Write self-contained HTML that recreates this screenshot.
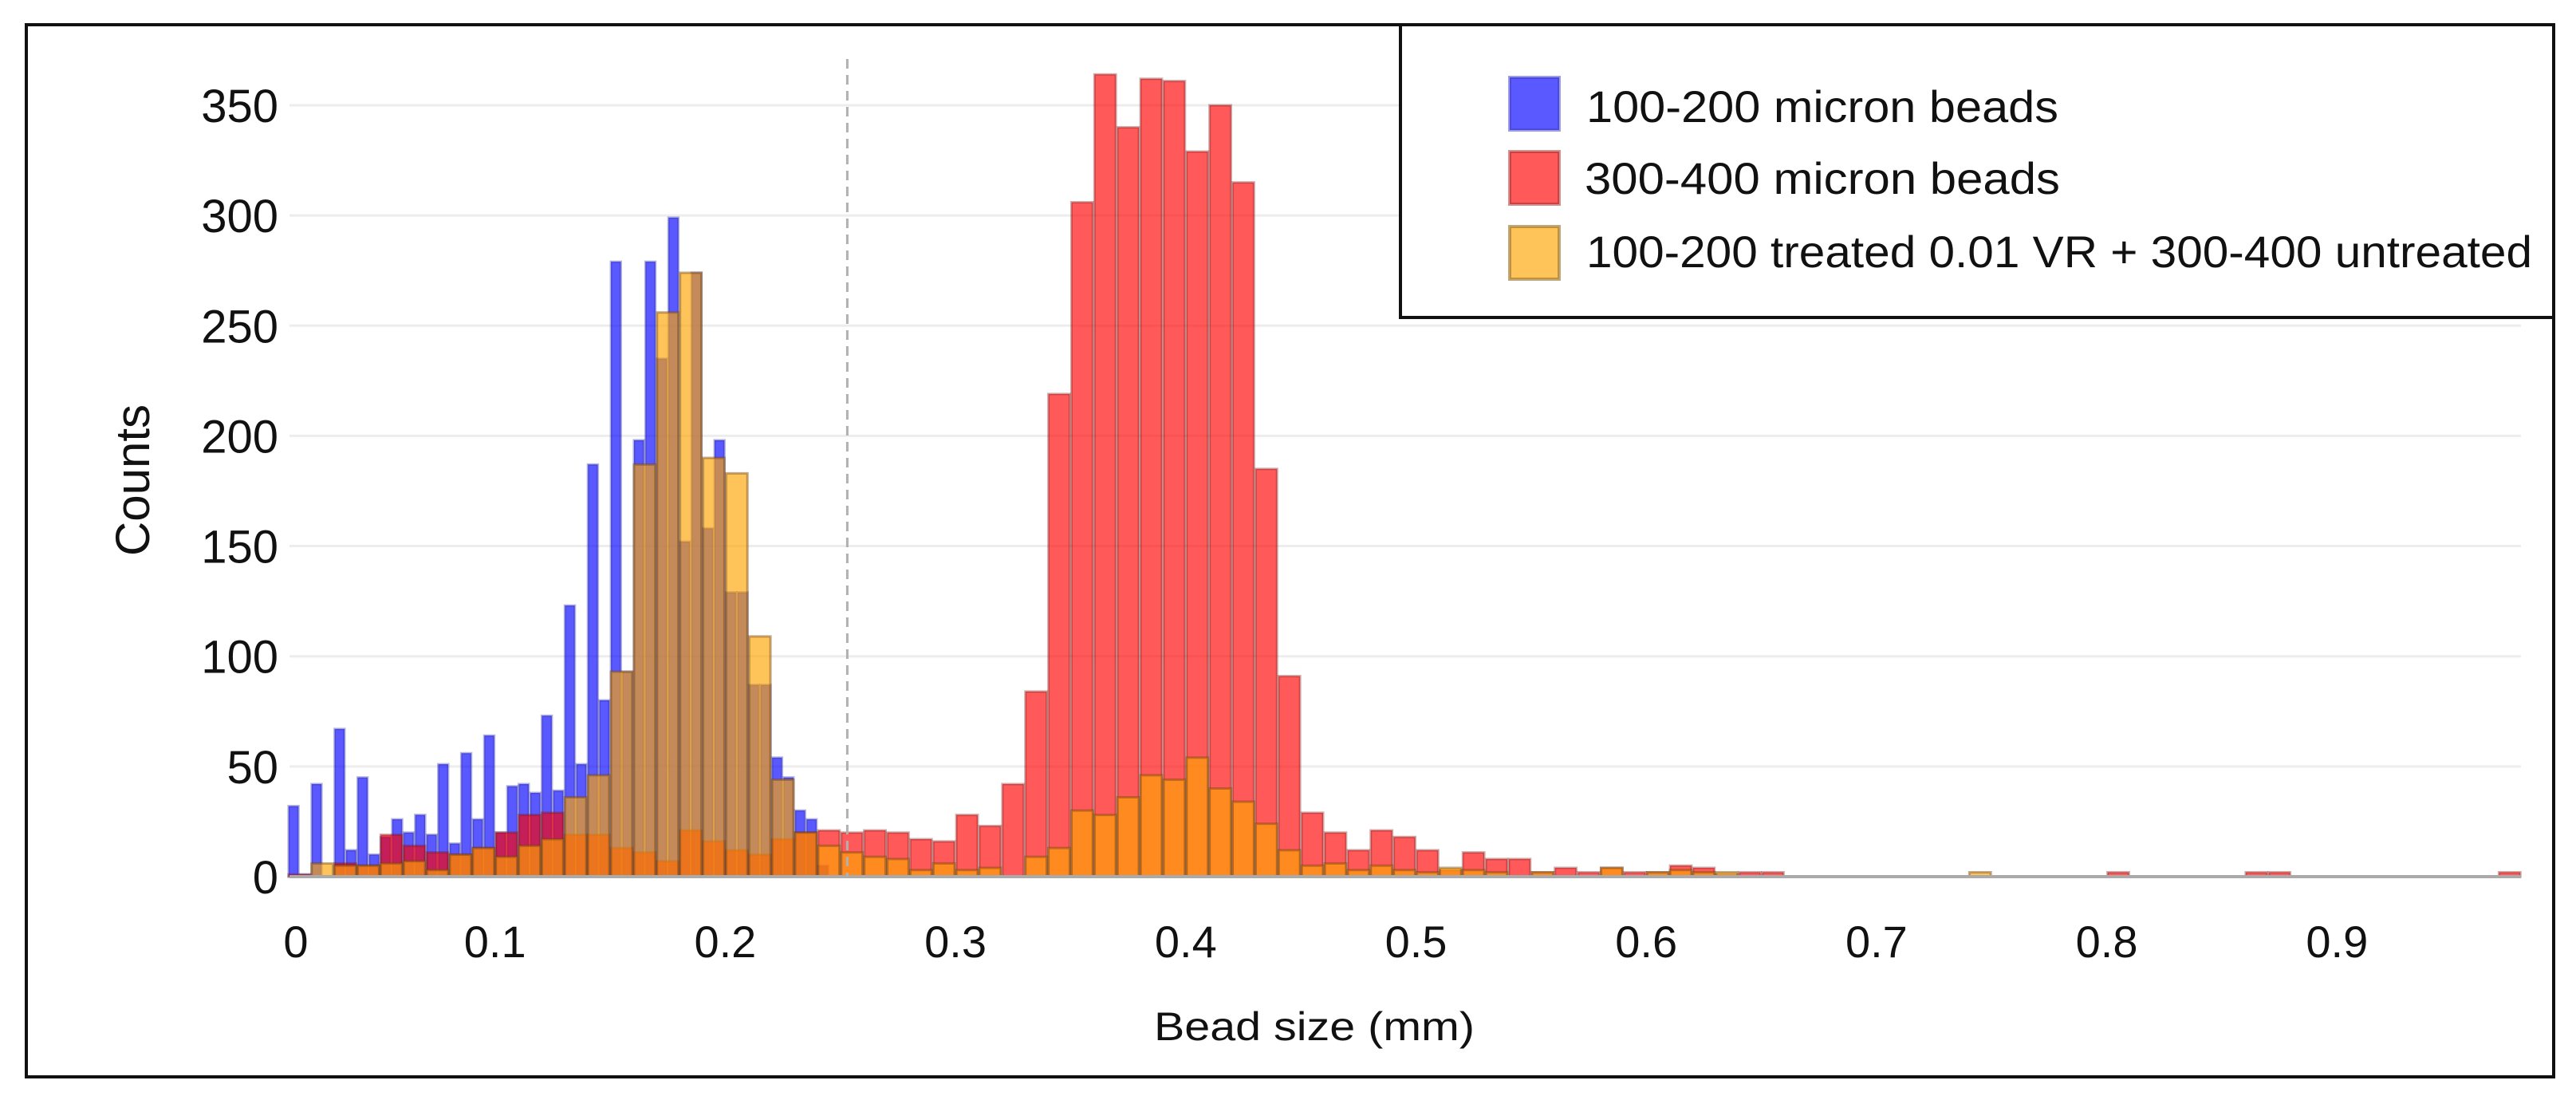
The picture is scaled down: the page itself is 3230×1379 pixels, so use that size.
<!DOCTYPE html>
<html><head><meta charset="utf-8"><style>
html,body{margin:0;padding:0;background:#fff;}
svg{display:block;font-family:"Liberation Sans",sans-serif;}
</style></head><body>
<svg id="chart" width="3230" height="1379" viewBox="0 0 3230 1379" xmlns="http://www.w3.org/2000/svg">
<rect x="33" y="31" width="3169" height="1319" fill="#fff" stroke="#111" stroke-width="4"/>
<g id="grid"></g>
<g id="ylabels"></g>
<g id="xlabels"></g>
<g id="bars"></g>
<text transform="translate(187,602) rotate(-90)" text-anchor="middle" font-size="60" fill="#111">Counts</text>
<text x="1648" y="1304" text-anchor="middle" font-size="50" fill="#111" textLength="402" lengthAdjust="spacingAndGlyphs">Bead size (mm)</text>
<g>
<rect x="1756" y="31" width="1446" height="367" fill="#fff" stroke="#111" stroke-width="4"/>
<rect x="1893" y="97" width="62" height="66" fill="rgba(0,0,255,0.65)" stroke="rgba(60,60,200,0.5)" stroke-width="4"/>
<text x="1989" y="153" font-size="56" fill="#111" textLength="592" lengthAdjust="spacingAndGlyphs">100-200 micron beads</text>
<rect x="1893" y="190" width="62" height="66" fill="rgba(255,0,0,0.65)" stroke="rgba(160,40,40,0.5)" stroke-width="4"/>
<text x="1987" y="243" font-size="56" fill="#111" textLength="596" lengthAdjust="spacingAndGlyphs">300-400 micron beads</text>
<rect x="1893" y="284" width="62" height="66" fill="rgba(255,165,0,0.65)" stroke="rgba(150,110,40,0.6)" stroke-width="4"/>
<text x="1989" y="335" font-size="56" fill="#111" textLength="1186" lengthAdjust="spacingAndGlyphs">100-200 treated 0.01 VR + 300-400 untreated</text>
</g>
</svg>
<script>
const yTicks = [0,50,100,150,200,250,300,350];
const xTicks = [0,0.1,0.2,0.3,0.4,0.5,0.6,0.7,0.8,0.9];
const xTickLabels = ["0","0.1","0.2","0.3","0.4","0.5","0.6","0.7","0.8","0.9"];
const blueStart = 0.01;
const blueWidth = 0.005;
const blueCounts = [32,1,42,0,67,12,45,10,18,26,20,28,19,51,15,56,26,64,20,41,42,38,73,39,123,51,187,80,279,93,198,279,235,299,152,274,158,198,129,129,87,87,54,45,30,26,5];
const binStart = 0.01;
const binWidth = 0.01;
const redCounts = [1,0,6,5,19,14,11,10,13,20,28,29,19,19,13,11,7,21,16,12,10,17,20,21,20,21,20,17,16,28,23,42,84,219,306,364,340,362,361,329,350,315,185,91,29,20,12,21,18,12,3,11,8,8,2,4,2,4,2,2,5,4,1,2,2,0,0,0,0,0,0,0,0,0,0,0,0,0,0,2,0,0,0,0,0,2,2,0,0,0,0,0,0,0,0,0,2];
const orangeCounts = [0,6,5,5,6,7,3,10,13,9,14,17,36,46,93,187,256,274,190,183,109,44,20,14,11,9,8,3,6,3,4,0,9,13,30,28,36,46,44,54,40,34,24,12,5,6,3,5,3,2,4,3,2,0,2,0,0,4,0,2,3,2,2,0,0,0,0,0,0,0,0,0,0,2];
const thresholdX = 0.253;

const X0 = 332, XS = 2887, PL = 363, PR = 3161;
const Y0 = 1099, YS = 2.763;
const xs = v => X0 + XS * v;
const ys = c => Y0 - YS * c;
const NS = "http://www.w3.org/2000/svg";
function mk(tag, attrs, parent) {
  const e = document.createElementNS(NS, tag);
  for (const k in attrs) e.setAttribute(k, attrs[k]);
  parent.appendChild(e);
  return e;
}
const grid = document.getElementById('grid');
const yl = document.getElementById('ylabels');
const xl = document.getElementById('xlabels');
const bars = document.getElementById('bars');

yTicks.forEach(t => {
  if (t > 0) {
    const g = mk('line', {x1: PL, x2: PR, y1: ys(t), y2: ys(t), stroke: '#ededed', 'stroke-width': 3}, grid);
    
    
  }
  const tx = mk('text', {x: 349, y: ys(t) + 21, 'text-anchor': 'end', 'font-size': 58, fill: '#111'}, yl);
  tx.textContent = String(t);
  
  
});
xTicks.forEach((t, i) => {
  const px = i === 0 ? 371 : xs(t);
  const tx = mk('text', {x: px, y: 1200, 'text-anchor': 'middle', 'font-size': 56, fill: '#111'}, xl);
  tx.textContent = xTickLabels[i];
  
  
});

function drawSeries(counts, start, width, fill, stroke, name) {
  counts.forEach((c, i) => {
    if (c <= 0) return;
    const x1 = xs(start + i * width), x2 = xs(start + (i + 1) * width);
    const r = mk('rect', {x: x1 + 1, y: ys(c), width: Math.max(1, x2 - x1 - 2), height: YS * c, fill: fill, stroke: stroke, 'stroke-width': 3}, bars);
    
    
  });
}
drawSeries(blueCounts, blueStart, blueWidth, 'rgba(0,0,255,0.65)', 'rgba(40,40,160,0.35)', 'blue');
drawSeries(redCounts, binStart, binWidth, 'rgba(255,0,0,0.65)', 'rgba(120,20,20,0.35)', 'red');
drawSeries(orangeCounts, binStart, binWidth, 'rgba(255,165,0,0.65)', 'rgba(120,70,10,0.45)', 'orange');

const base = mk('line', {x1: PL, x2: PR, y1: Y0, y2: Y0, stroke: '#aaa', 'stroke-width': 4}, bars);


const th = mk('line', {x1: xs(thresholdX), x2: xs(thresholdX), y1: 74, y2: Y0, stroke: '#b0b0b0', 'stroke-width': 3, 'stroke-dasharray': '12,8'}, bars);


</script>
</body></html>
